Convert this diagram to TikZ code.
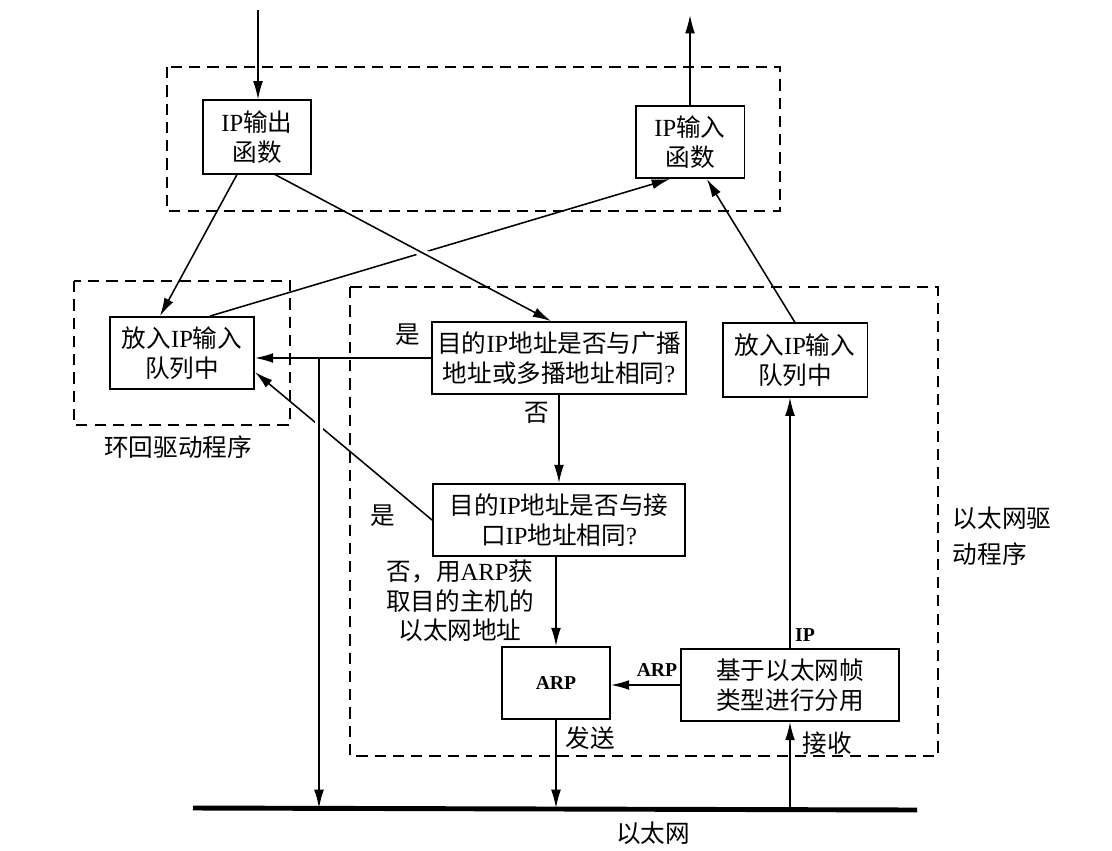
\documentclass[tikz,border=0pt]{standalone}
\usepackage{fontspec}
\setmainfont{Noto Sans CJK SC}
\newfontfamily\lat{Liberation Serif}
\usetikzlibrary{arrows.meta}

\tikzset{
  blk/.style={draw, line width=1.3pt, align=center, inner sep=0pt},
  drvbox/.style={draw, line width=1.2pt, dash pattern=on 8pt off 5pt},
  arr/.style={line width=1.1pt, -{Latex[length=13pt,width=7pt]}},
  latlbl/.style={font=\lat\bfseries\fontsize{14}{16}\selectfont}
}

\begin{document}
\begin{tikzpicture}[x=0.025cm, y=-0.025cm, font=\fontsize{17.5}{21}\selectfont]
    \useasboundingbox (0,0) rectangle (1112,850);

    % boxes
    \node[blk, minimum width=2.7cm, minimum height=1.83cm] (ipout) at (257,137) {{\lat IP}输出\\函数};
    \node[blk, minimum width=2.72cm, minimum height=1.8cm] (ipin) at (690,142) {{\lat IP}输入\\函数};
    \node[blk, minimum width=3.6cm, minimum height=1.8cm] (loopq) at (182,353) {放入{\lat IP}输入\\队列中};
    \node[blk, minimum width=6.35cm, minimum height=1.8cm] (bcast) at (559,358) {目的{\lat IP}地址是否与广播\\地址或多播地址相同{\lat ?}};
    \node[blk, minimum width=6.3cm, minimum height=1.8cm] (iface) at (559,520) {目的{\lat IP}地址是否与接\\口{\lat IP}地址相同{\lat ?}};
    \node[blk, minimum width=3.62cm, minimum height=1.83cm] (ethq) at (795,360) {放入{\lat IP}输入\\队列中};
    \node[blk, minimum width=2.7cm, minimum height=1.8cm, latlbl] (arp) at (556,683) {ARP};
    \node[blk, minimum width=5.45cm, minimum height=1.8cm] (demux) at (790,685) {基于以太网帧\\类型进行分用};

    % labels
    \node (yes1) at (408,335) {是};
    \node (no1) at (537,413) {否};
    \node (yes2) at (383,516) {是};
    \node[align=center] (arpnote) at (460,601) {否，用{\lat ARP}获\\取目的主机的\\以太网地址};
    \node[latlbl] (arplbl) at (657,670) {ARP};
    \node[latlbl] (iplbl) at (805,635) {IP};
    \node (send) at (590,738) {发送};
    \node (recv) at (827,743) {接收};
    \node (ether) at (653,833) {以太网};
    \node (loopname) at (178,447) {环回驱动程序};
    \node[anchor=west, align=left] (ethname) at (948,536) {以太网驱\\[5pt]动程序};

    \coordinate (src) at (258,10);
    \coordinate (dst) at (690,15);
    \coordinate (tap) at (319,0);
    \coordinate (ethL) at (193,808);
    \coordinate (ethR) at (917,810);

    % ethernet
    \draw[line width=3.5pt] (ethL) -- (ethR);

    % connectors
    \draw[arr] (src) -- (src |- ipout.north);
    \draw[arr] (ipin.north) -- (ipin.north |- dst);
    \draw[arr] ([xshift=-0.5cm]ipout.south) -- ([xshift=-0.55cm]loopq.north);
    \draw[arr] ([xshift=0.7cm]loopq.north) -- ([xshift=-0.5cm]ipin.south);
    \draw[arr, preaction={draw=white, line width=6pt, -, shorten <=15pt, shorten >=18pt}]
      ([xshift=0.45cm]ipout.south) -- ([xshift=-0.2cm]bcast.north);
    \draw[arr] (ethq.north) -- ([xshift=0.42cm]ipin.south);
    \draw[arr] (bcast.west) -- (bcast.west -| loopq.east);
    \draw[arr] (iface.west) -- ([yshift=-0.475cm]loopq.east);
    \draw[arr, preaction={draw=white, line width=6pt, -, shorten <=12pt, shorten >=16pt}]
      (tap |- bcast.west) -- (tap |- ethL);
    \draw[arr] (bcast.south) -- (bcast.south |- iface.north);
    \draw[arr] (arp.north |- iface.south) -- (arp.north);
    \draw[arr] (demux.west) -- (demux.west -| arp.east);
    \draw[arr] (demux.north) -- (demux.north |- ethq.south);
    \draw[arr] (arp.south) -- (arp.south |- ethL);
    \draw[arr] (demux.south |- ethL) -- (demux.south);

    % driver regions
    \draw[drvbox] (167,67) rectangle (780,211);
    \draw[drvbox] (74,281) rectangle (290,425);
    \draw[drvbox] (350,287) rectangle (938,756);
\end{tikzpicture}
\end{document}
